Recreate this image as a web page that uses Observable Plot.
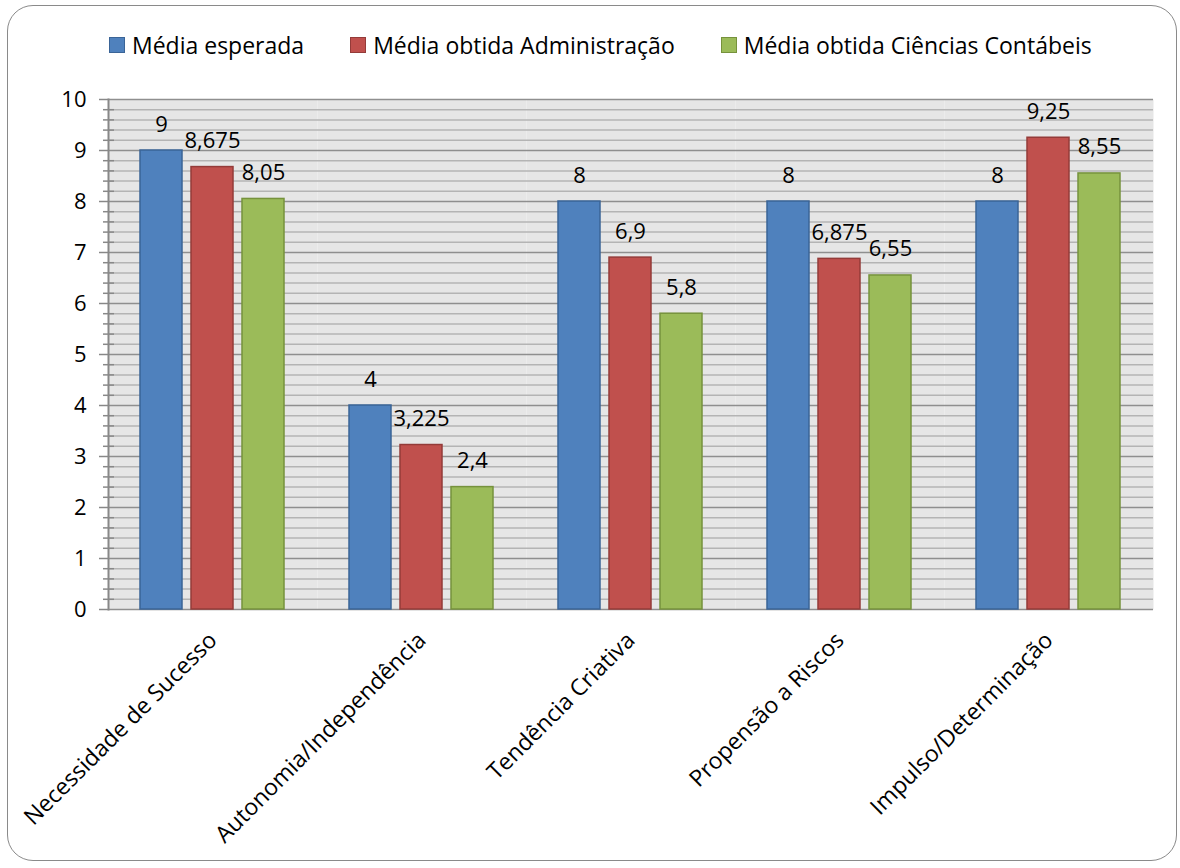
<!DOCTYPE html>
<html>
<head>
<meta charset="utf-8">
<script src="https://cdn.jsdelivr.net/npm/d3@7"></script>
<script src="https://cdn.jsdelivr.net/npm/@observablehq/plot@0.6"></script>
<style>
  html, body { margin: 0; padding: 0; background: #fff; }
  body { width: 1180px; height: 868px; position: relative; overflow: hidden; font-family: "Open Sans", sans-serif; }
  #border { position: absolute; left: 7px; top: 5px; width: 1168px; height: 854px; border: 1.5px solid #8a8a8a; border-radius: 26px; pointer-events: none; }
  #legend { height: 75px; box-sizing: border-box; padding-top: 15px; padding-left: 109px; display: flex; align-items: center; gap: 46px; font-size: 23px; color: #000; }
  .item { display: flex; align-items: center; gap: 7px; }
  .sw { width: 14px; height: 14px; border: 1px solid; box-sizing: content-box; }
  #chart svg { display: block; }
  #chart svg g[aria-label="fx-axis tick label"] text { font-size: 23px; }
</style>
</head>
<body>
<div id="legend"></div>
<div id="chart"></div>
<div id="border"></div>
<script>
const categories = ["Necessidade de Sucesso", "Autonomia/Independência", "Tendência Criativa", "Propensão a Riscos", "Impulso/Determinação"];
const series = ["Média esperada", "Média obtida Administração", "Média obtida Ciências Contábeis"];
const esperada = [9, 4, 8, 8, 8];
const administracao = [8.675, 3.225, 6.9, 6.875, 9.25];
const contabeis = [8.05, 2.4, 5.8, 6.55, 8.55];
const majorTicks = [0, 1, 2, 3, 4, 5, 6, 7, 8, 9, 10];
const minorTicks = [0.2, 0.4, 0.6, 0.8, 1.2, 1.4, 1.6, 1.8, 2.2, 2.4, 2.6, 2.8, 3.2, 3.4, 3.6, 3.8, 4.2, 4.4, 4.6, 4.8,
  5.2, 5.4, 5.6, 5.8, 6.2, 6.4, 6.6, 6.8, 7.2, 7.4, 7.6, 7.8, 8.2, 8.4, 8.6, 8.8, 9.2, 9.4, 9.6, 9.8];

const fills = ["#4f81bd", "#c0504d", "#9bbb59"];
const strokes = ["#3a6497", "#943b39", "#76923c"];

const valuesBySeries = [esperada, administracao, contabeis];
const data = [];
categories.forEach((c, i) => {
  series.forEach((s, j) => data.push({category: c, series: s, value: valuesBySeries[j][i]}));
});

// legend
const legend = document.getElementById("legend");
series.forEach((s, j) => {
  const it = document.createElement("div");
  it.className = "item";
  const sw = document.createElement("div");
  sw.className = "sw";
  sw.style.background = fills[j];
  sw.style.borderColor = strokes[j];
  const t = document.createElement("span");
  t.textContent = s;
  it.appendChild(sw); it.appendChild(t);
  legend.appendChild(it);
});

const fmt = v => String(v).replace(".", ",");

const barMarks = series.map((s, j) =>
  Plot.barY(data.filter(d => d.series === s), {
    fx: "category", x: "series", y: "value",
    fill: fills[j], stroke: strokes[j], strokeWidth: 1.5
  })
);

const chart = Plot.plot({
  width: 1180,
  height: 793,
  marginLeft: 106,
  marginRight: 25,
  marginTop: 24,
  marginBottom: 259,
  style: {fontFamily: "'Open Sans', sans-serif", fontSize: "22px", color: "#000", background: "transparent"},
  x: {domain: series, paddingInner: 9 / 52, paddingOuter: 0.606, axis: null},
  fx: {domain: categories, padding: 0, label: null, axis: null},
  y: {domain: [0, 10], axis: null, label: null},
  marks: [
    Plot.frame({fill: "#e6e6e6", stroke: null}),
    Plot.ruleY(minorTicks, {stroke: "#b4b4b4", strokeWidth: 1.5}),
    Plot.ruleY(majorTicks, {stroke: "#8f8f8f", strokeWidth: 1.5}),
    Plot.frame({anchor: "left", stroke: "#888", strokeWidth: 2, facetAnchor: "left"}),
    Plot.axisY({ticks: minorTicks, tickSize: 11, dx: 6, text: null, label: null, stroke: "#888", strokeWidth: 1.5}),
    Plot.axisY({ticks: majorTicks, tickSize: 9, tickPadding: 13, label: null, stroke: "#888", strokeWidth: 1.5, fontSize: 22}),
    Plot.axisFx({anchor: "bottom", tickRotate: -45, tickSize: 0, tickPadding: 27, label: null, fontSize: 23}),
    ...barMarks,
    Plot.text(data, {fx: "category", x: "series", y: "value", text: d => fmt(d.value), dy: -26, fontSize: 22, fill: "#000"})
  ]
});
document.getElementById("chart").appendChild(chart);
</script>
</body>
</html>
